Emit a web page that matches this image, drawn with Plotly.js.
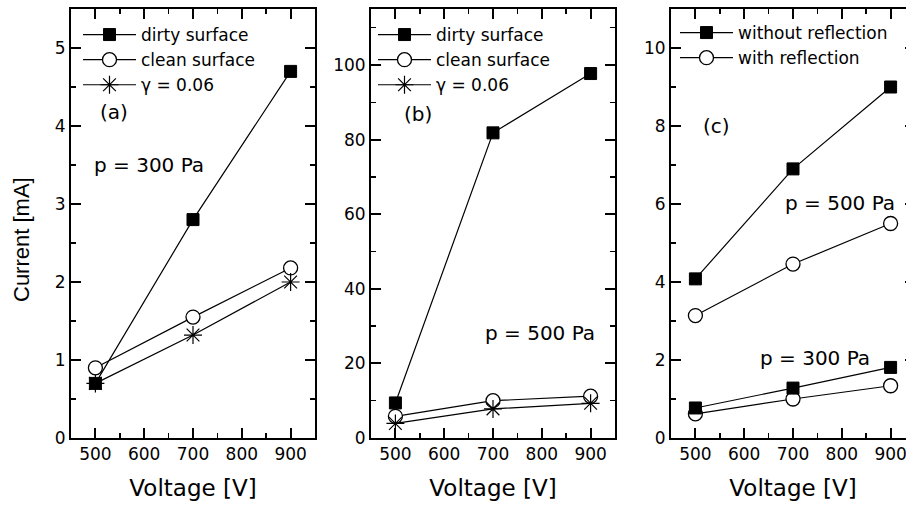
<!DOCTYPE html>
<html>
<head>
<meta charset="utf-8">
<script src="https://cdn.plot.ly/plotly-3.0.1.min.js"></script>
<style>
html, body { margin: 0; padding: 0; overflow: hidden; background: #fff; }
#chart { width: 920px; height: 505px; }
</style>
</head>
<body>
<div id="chart"></div>
<script>
// ---- data ----
const voltage = [500, 700, 900];
// panel (a), p = 300 Pa
const dirtyA = [0.7, 2.8, 4.7];
const cleanA = [0.9, 1.55, 2.18];
const gammaA = [0.7, 1.32, 2.0];
// panel (b), p = 500 Pa
const dirtyB = [9.4, 81.8, 97.7];
const cleanB = [5.8, 10.0, 11.2];
const gammaB = [3.9, 7.8, 9.3];
// panel (c)
const without500 = [4.08, 6.9, 9.0];
const with500 = [3.14, 4.46, 5.5];
const without300 = [0.77, 1.28, 1.81];
const with300 = [0.62, 1.0, 1.34];

const legendA = ["dirty surface", "clean surface", "\u03b3 = 0.06"];
const legendC = ["without reflection", "with reflection"];
const xTicks = [500, 600, 700, 800, 900];

const FONT = "DejaVu Sans";
const lineStyle = {color: "#000", width: 1.2};
const squareM = {symbol: "square", size: 12, color: "#000", line: {color: "#000", width: 1}};
const circleM = {symbol: "circle", size: 14, color: "#fff", line: {color: "#000", width: 1.3}};
const starM = {symbol: "asterisk-open", size: 15, color: "#000", line: {color: "#000", width: 1.2}};

const X_RANGE = [450, 950];
const yRanges = [[0, 5.5], [0, 115], [0, 11]];
const yDticks = [1, 20, 2];

function tr(y, name, marker, xa, ya, leg, rank, show, group) {
  const t = {
    x: voltage, y: y, name: name, type: "scatter", mode: "lines+markers",
    line: lineStyle, marker: marker, xaxis: xa, yaxis: ya, legend: leg,
    legendrank: rank, showlegend: show
  };
  if (group) t.legendgroup = group;
  return t;
}

const data = [
  tr(cleanA, legendA[1], circleM, "x", "y", "legend", 2, true),
  tr(gammaA, legendA[2], starM, "x", "y", "legend", 3, true),
  tr(dirtyA, legendA[0], squareM, "x", "y", "legend", 1, true),
  tr(cleanB, legendA[1], circleM, "x2", "y2", "legend2", 2, true),
  tr(gammaB, legendA[2], starM, "x2", "y2", "legend2", 3, true),
  tr(dirtyB, legendA[0], squareM, "x2", "y2", "legend2", 1, true),
  tr(with500, legendC[1], circleM, "x3", "y3", "legend3", 2, true, "c2"),
  tr(without500, legendC[0], squareM, "x3", "y3", "legend3", 1, true, "c1"),
  tr(with300, legendC[1], circleM, "x3", "y3", "legend3", 2, false, "c2"),
  tr(without300, legendC[0], squareM, "x3", "y3", "legend3", 1, false, "c1")
];

const W = 920, H = 505;
const mL = 71, mR = 5, mT = 9, mB = 67;
const PW = W - mL - mR, PH = H - mT - mB;
function px2x(px) { return (px - mL) / PW; }
function px2y(py) { return (H - mB - py) / PH; }

const xDomains = [[0, px2x(315)], [px2x(371), px2x(615)], [px2x(671), 1]];

const tickStyle = {
  ticks: "inside", ticklen: 10, tickwidth: 2, tickcolor: "#000",
  showline: true, linewidth: 2, linecolor: "#000", mirror: "allticks",
  showgrid: false, zeroline: false, layer: "above traces",
  tickfont: {family: FONT, size: 17, color: "#000"}
};

function xAxis(domain, anchor) {
  return Object.assign({
    domain: domain, anchor: anchor, range: X_RANGE,
    tickvals: xTicks, ticktext: xTicks.map(String),
    minor: {dtick: 50, tick0: 450, ticks: "inside", ticklen: 5, tickwidth: 1.5, tickcolor: "#000"},
    title: {text: "Voltage [V]", font: {family: FONT, size: 23, color: "#000"}, standoff: 16}
  }, tickStyle);
}
function yAxis(range, dtick, anchor) {
  return Object.assign({
    domain: [0, 1], anchor: anchor, range: range, dtick: dtick, tick0: 0,
    minor: {dtick: dtick / 2, tick0: 0, ticks: "inside", ticklen: 5, tickwidth: 1.5, tickcolor: "#000"}
  }, tickStyle);
}

function legendAt(px, py) {
  return {
    x: px2x(px), y: px2y(py), xanchor: "left", yanchor: "top",
    bgcolor: "rgba(0,0,0,0)", borderwidth: 0, itemwidth: 53,
    font: {family: FONT, size: 17, color: "#000"}, tracegroupgap: 0
  };
}

function note(text, xa, ya, x, y) {
  return {text: text, xref: xa, yref: ya, x: x, y: y, xanchor: "left", yanchor: "middle",
          showarrow: false, font: {family: FONT, size: 20, color: "#000"}};
}

const layout = {
  width: W, height: H,
  margin: {l: mL, r: mR, t: mT, b: mB, pad: 0},
  paper_bgcolor: "#fff", plot_bgcolor: "#fff",
  showlegend: true,
  legend: legendAt(78, 17),
  legend2: legendAt(373, 17),
  legend3: legendAt(675, 15),
  annotations: [
    {text: "Current [mA]", xref: "paper", yref: "paper", x: px2x(21), y: px2y(240),
     xanchor: "center", yanchor: "middle", textangle: -90, showarrow: false,
     font: {family: "Liberation Sans", size: 22, color: "#000"}},
    note("(a)", "x", "y", 505, 4.18),
    note("p = 300 Pa", "x", "y", 493, 3.5),
    note("(b)", "x2", "y2", 513, 86.9),
    note("p = 500 Pa", "x2", "y2", 679, 28.1),
    note("(c)", "x3", "y3", 511, 8.0),
    note("p = 500 Pa", "x3", "y3", 679, 6.03),
    note("p = 300 Pa", "x3", "y3", 628, 2.05)
  ]
};

const ids = ["", "2", "3"];
for (let i = 0; i < 3; i++) {
  const xid = "x" + ids[i], yid = "y" + ids[i];
  layout["xaxis" + ids[i]] = xAxis(xDomains[i], yid);
  layout["yaxis" + ids[i]] = yAxis(yRanges[i], yDticks[i], xid);
}

Plotly.newPlot("chart", data, layout, {staticPlot: true, displayModeBar: false});
</script>
</body>
</html>
